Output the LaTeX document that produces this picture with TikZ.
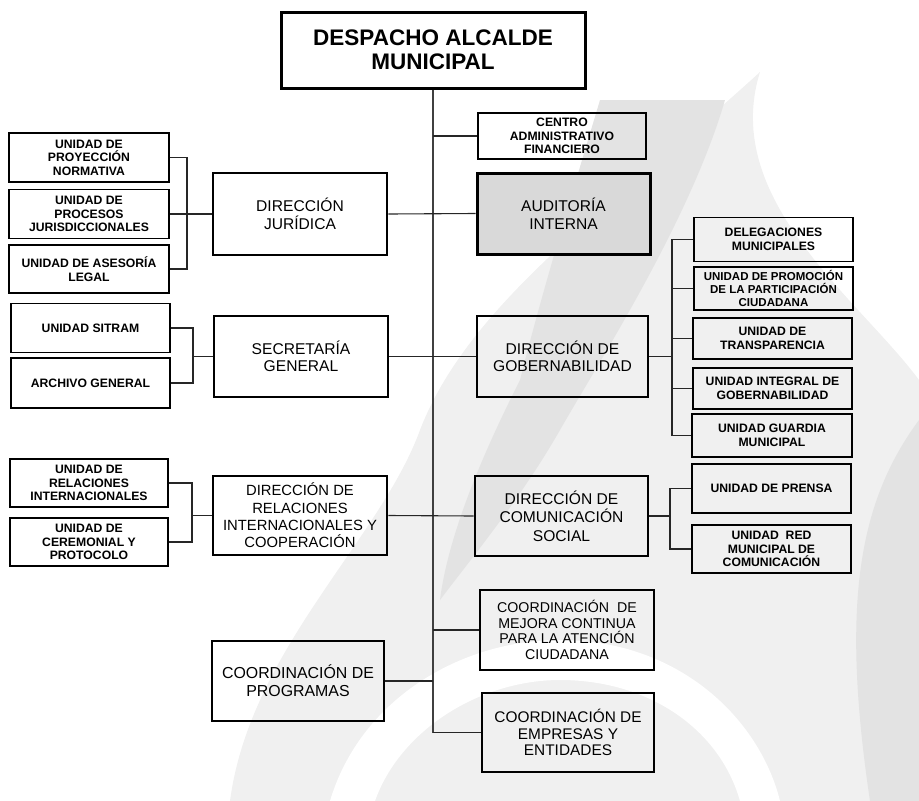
\documentclass[tikz,border=0pt]{standalone}
\usepackage{fontspec}
\setmainfont{Liberation Sans}
\definecolor{wmlight}{HTML}{F0F0F0}
\definecolor{wmdark}{HTML}{E3E3E3}
\definecolor{audfill}{HTML}{D9D9D9}
\begin{document}
\begin{tikzpicture}[x=1pt,y=-1pt,
  box/.style={draw, rectangle, align=center, inner sep=1pt, text=black},
  unit/.style={box, line width=1.3pt, font=\bfseries\fontsize{12.2}{13.5}\selectfont},
  dirbox/.style={box, line width=2.6pt, font=\fontsize{15.6}{17.5}\selectfont},
  topbox/.style={box, line width=3pt, font=\bfseries\fontsize{22.5}{24.5}\selectfont},
  link/.style={line width=1.1pt, draw=black!85},
  spine/.style={line width=1.8pt, draw=black!75}]
\useasboundingbox (0,0) rectangle (919,801);

% faint flame watermark behind the chart
\fill[wmlight] (230,801) .. controls (250,650) and (380,540) .. (420,430)
  .. controls (470,300) and (620,200) .. (760,72)
  .. controls (720,200) and (860,300) .. (919,380) -- (919,801) -- cycle;
\fill[wmdark] (600,100) -- (725,100) .. controls (690,220) and (600,360) .. (560,430)
  .. controls (520,500) and (470,560) .. (440,600)
  .. controls (450,520) and (500,420) .. (520,380)
  .. controls (540,300) and (570,200) .. cycle;
\fill[wmdark] (919,420) .. controls (860,500) and (840,600) .. (870,801) -- (919,801) -- cycle;
\fill[white] (330,801) .. controls (360,700) and (460,640) .. (560,640)
  .. controls (680,640) and (760,720) .. (780,801) -- (740,801)
  .. controls (720,730) and (650,680) .. (560,680)
  .. controls (480,680) and (400,730) .. (375,801) -- cycle;

% top level
\node[topbox, minimum width=304pt, minimum height=76pt] (top) at (433,50) {DESPACHO ALCALDE\\MUNICIPAL};

% right column
\node[unit, font=\bfseries\fontsize{12.2}{13.7}\selectfont, minimum width=168pt, minimum height=46pt] (caf) at (562,136) {CENTRO\\ADMINISTRATIVO\\FINANCIERO};
\node[dirbox, fill=audfill, line width=3pt, minimum width=173pt, minimum height=81pt] (aud) at (563.5,213.5) {AUDITORÍA\\INTERNA};
\node[dirbox, minimum width=171pt, minimum height=81pt] (gob) at (562.5,356.5) {DIRECCIÓN DE\\GOBERNABILIDAD};
\node[dirbox, font=\fontsize{15.6}{18.5}\selectfont, minimum width=173pt, minimum height=80pt] (com) at (561.5,516) {DIRECCIÓN DE\\COMUNICACIÓN\\SOCIAL};
\node[dirbox, font=\fontsize{14.2}{15.7}\selectfont, minimum width=174pt, minimum height=80pt] (mej) at (567,630) {COORDINACIÓN~ DE\\MEJORA CONTINUA\\PARA LA ATENCIÓN\\CIUDADANA};
\node[dirbox, font=\fontsize{15.4}{16.5}\selectfont, minimum width=172pt, minimum height=79pt] (emp) at (568,732.5) {COORDINACIÓN DE\\EMPRESAS Y\\ENTIDADES};

% left column
\node[dirbox, minimum width=174pt, minimum height=82pt] (jur) at (300,214) {DIRECCIÓN\\JURÍDICA};
\node[dirbox, minimum width=174pt, minimum height=81pt] (sec) at (301,356.5) {SECRETARÍA\\GENERAL};
\node[dirbox, font=\fontsize{14.8}{17.3}\selectfont, minimum width=174pt, minimum height=79pt] (rel) at (300,515.5) {DIRECCIÓN DE\\RELACIONES\\INTERNACIONALES Y\\COOPERACIÓN};
\node[dirbox, font=\fontsize{15.9}{18}\selectfont, minimum width=172pt, minimum height=80pt] (prog) at (298,681) {COORDINACIÓN DE\\PROGRAMAS};

% units under Dirección Jurídica
\node[unit, minimum width=160pt, minimum height=49pt] (proy) at (89,157.5) {UNIDAD DE\\PROYECCIÓN\\NORMATIVA};
\node[unit, minimum width=160pt, minimum height=49pt] (proc) at (89,214) {UNIDAD DE\\PROCESOS\\JURISDICCIONALES};
\node[unit, minimum width=160pt, minimum height=48pt] (ase) at (89,269) {UNIDAD DE ASESORÍA\\LEGAL};

% units under Secretaría General
\node[unit, minimum width=159pt, minimum height=49pt] (sit) at (90.5,328) {UNIDAD SITRAM};
\node[unit, minimum width=159pt, minimum height=50pt] (arc) at (90.5,383) {ARCHIVO GENERAL};

% units under Relaciones Internacionales
\node[unit, minimum width=158pt, minimum height=48pt] (uri) at (89,483) {UNIDAD DE\\RELACIONES\\INTERNACIONALES};
\node[unit, minimum width=158pt, minimum height=48pt] (cer) at (89,542) {UNIDAD DE\\CEREMONIAL Y\\PROTOCOLO};

% units under Gobernabilidad
\node[unit, minimum width=159pt, minimum height=44pt] (del) at (773.5,239.5) {DELEGACIONES\\MUNICIPALES};
\node[unit, font=\bfseries\fontsize{11.5}{13}\selectfont, minimum width=159pt, minimum height=43pt] (pro) at (773.5,288.5) {UNIDAD DE PROMOCIÓN\\DE LA PARTICIPACIÓN\\CIUDADANA};
\node[unit, minimum width=159pt, minimum height=41pt] (tra) at (772.5,338.5) {UNIDAD DE\\TRANSPARENCIA};
\node[unit, minimum width=159pt, minimum height=41pt] (int) at (772.5,388.5) {UNIDAD INTEGRAL DE\\GOBERNABILIDAD};
\node[unit, minimum width=160pt, minimum height=43pt] (gua) at (772,435.5) {UNIDAD GUARDIA\\MUNICIPAL};

% units under Comunicación Social
\node[unit, minimum width=159pt, minimum height=49pt] (pre) at (771.5,488.5) {UNIDAD DE PRENSA};
\node[unit, minimum width=159pt, minimum height=48pt] (red) at (771.5,549) {UNIDAD~ RED\\MUNICIPAL DE\\COMUNICACIÓN};

% bracket junctions
\coordinate (jb) at (187,214);
\coordinate (sb) at (193,356.5);
\coordinate (rb) at (192,515.5);
\coordinate (gb) at (672,356.5);
\coordinate (cb) at (670,516);
\coordinate (sp) at (top.south);

% main spine
\draw[spine] (top.south) -- (emp.west -| sp);

% links to the spine
\draw[link] (caf.west) -- (caf.west -| sp);
\draw[link] (jur.east) -- (aud.west);
\draw[link] (sec.east) -- (gob.west);
\draw[link] (rel.east) -- (com.west);
\draw[link] (mej.west) -- (mej.west -| sp);
\draw[link] (prog.east) -- (prog.east -| sp);
\draw[link] (emp.west) -- (emp.west -| sp);

% left brackets
\draw[link] (proy.east) -| (jb) |- (ase.east);
\draw[link] (proc.east) -- (jur.west);
\draw[link] (sit.east) -| (sb) |- (arc.east);
\draw[link] (sb) -- (sec.west);
\draw[link] (uri.east) -| (rb) |- (cer.east);
\draw[link] (rb) -- (rel.west);

% right brackets
\draw[link] (del.west) -| (gb) |- (gua.west);
\draw[link] (gob.east) -- (gb);
\draw[link] (pro.west) -- (pro.west -| gb);
\draw[link] (tra.west) -- (tra.west -| gb);
\draw[link] (int.west) -- (int.west -| gb);
\draw[link] (pre.west) -| (cb) |- (red.west);
\draw[link] (com.east) -- (cb);
\end{tikzpicture}
\end{document}
